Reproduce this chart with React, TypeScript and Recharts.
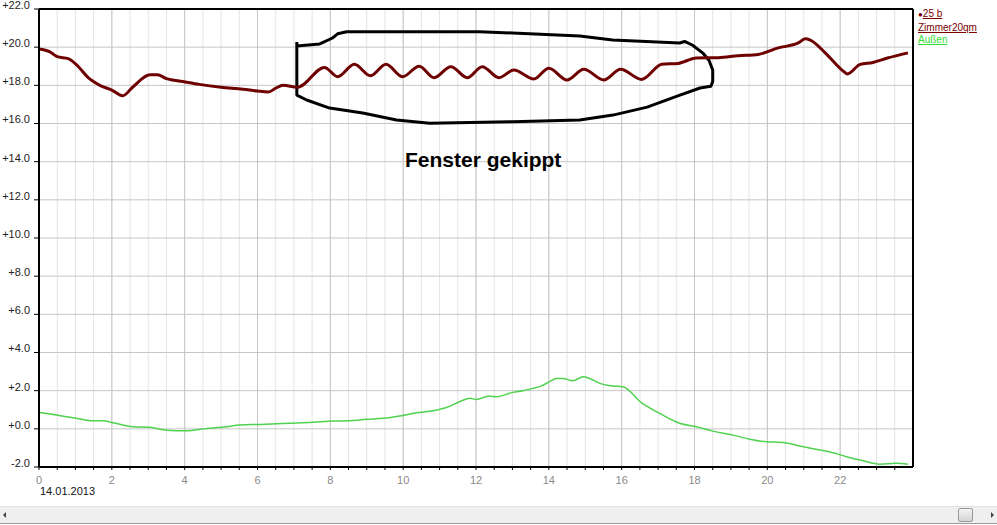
import React from "react";
import {
  LineChart,
  Line,
  XAxis,
  YAxis,
  CartesianGrid,
  ReferenceLine,
} from "recharts";

// Zimmer20qm (innen)
const ROOM_HOURS = [
  0, 0.3, 0.5, 0.8, 1.07, 1.35, 1.67, 2.0, 2.3, 2.57, 3.05, 3.25, 3.5, 3.95, 4.4, 5.0, 5.6, 6.0, 6.3, 6.5,
  6.7, 7.1, 7.84, 8.2, 8.66, 9.1, 9.53, 9.98, 10.44, 10.85, 11.31, 11.76, 12.17, 12.63, 13.04, 13.59, 14.0,
  14.5, 14.96, 15.51, 15.97, 16.55, 17.1, 17.55, 18.05, 18.66, 19.2, 19.75, 20.3, 20.85, 21.04, 21.18,
  21.59, 22.05, 22.2, 22.55, 22.9, 23.3, 23.86,
];
const ROOM_TEMPS = [
  19.9, 19.75, 19.5, 19.4, 19.0, 18.4, 18.0, 17.75, 17.45, 17.9, 18.55, 18.55, 18.35, 18.2, 18.05, 17.9, 17.8,
  17.7, 17.65, 17.85, 18.0, 17.9, 18.94, 18.45, 19.1, 18.5, 19.1, 18.45, 19.0, 18.4, 18.98, 18.4, 18.98, 18.4,
  18.8, 18.33, 18.9, 18.28, 18.84, 18.28, 18.84, 18.31, 19.1, 19.15, 19.43, 19.45, 19.55, 19.62, 19.96, 20.22,
  20.44, 20.37, 19.7, 18.8, 18.6, 19.1, 19.2, 19.43, 19.7,
];

// Außen
const OUT_HOURS = [
  0, 0.48, 1.03, 1.48, 1.76, 2.03, 2.58, 3.04, 3.5, 4.05, 4.6, 5.15, 5.51, 6.06, 6.88, 7.52, 8.07, 8.53, 8.99,
  9.45, 9.9, 10.36, 10.82, 11.19, 11.55, 11.83, 12.01, 12.37, 12.56, 13.01, 13.29, 13.56, 13.75, 14.02, 14.2,
  14.39, 14.66, 14.94, 15.12, 15.4, 15.76, 16.03, 16.54, 17.04, 17.59, 18.05, 18.51, 19.06, 19.42, 19.97,
  20.43, 20.89, 21.44, 21.8, 22.17, 22.63, 23.08, 23.54, 23.86,
];
const OUT_TEMPS = [
  0.86, 0.72, 0.55, 0.42, 0.42, 0.32, 0.11, 0.08, -0.07, -0.1, 0.02, 0.11, 0.2, 0.23, 0.29, 0.34, 0.41, 0.42,
  0.5, 0.55, 0.67, 0.84, 0.95, 1.12, 1.42, 1.6, 1.54, 1.72, 1.68, 1.91, 2.0, 2.12, 2.21, 2.47, 2.64, 2.64, 2.52,
  2.73, 2.64, 2.38, 2.24, 2.21, 1.37, 0.81, 0.29, 0.11, -0.12, -0.33, -0.5, -0.68, -0.71, -0.9, -1.11, -1.25,
  -1.46, -1.67, -1.85, -1.81, -1.86,
];

// hand drawn outline "Fenster gekippt"
const MARK_HOURS = [
  7.08, 7.08, 7.35, 7.98, 8.89, 9.82, 10.73, 13.01, 14.85, 15.76, 16.7, 17.6, 18.15, 18.45, 18.5, 18.5, 18.4,
  18.23, 17.95, 17.73, 17.59, 15.75, 14.85, 13.0, 12.1, 8.45, 8.2, 8.06, 7.71, 7.08,
];
const MARK_TEMPS = [
  20.27, 17.49, 17.23, 16.81, 16.55, 16.18, 16.01, 16.09, 16.18, 16.44, 16.86, 17.49, 17.86, 17.95, 18.2, 18.8,
  19.3, 19.69, 20.1, 20.3, 20.22, 20.37, 20.58, 20.74, 20.81, 20.81, 20.7, 20.48, 20.17, 20.06,
];

const Y_TICKS = [-2, 0, 2, 4, 6, 8, 10, 12, 14, 16, 18, 20, 22];
const X_TICKS = [0, 2, 4, 6, 8, 10, 12, 14, 16, 18, 20, 22];
const HALF_HOURS = Array.from({ length: 48 }, (_, i) => i * 0.5);

const roomData = ROOM_HOURS.map((h, i) => ({ hour: h, temp: ROOM_TEMPS[i] }));
const outData = OUT_HOURS.map((h, i) => ({ hour: h, temp: OUT_TEMPS[i] }));
const markData = MARK_HOURS.map((h, i) => ({ hour: h, temp: MARK_TEMPS[i] }));

const FONT = "'Liberation Sans', Arial, sans-serif";

function YTick({ x, y, payload }: any) {
  const v = payload.value as number;
  return (
    <text x={x} y={y - 4} textAnchor="end" fontSize={11} fontFamily={FONT} fill="#222" dy="0.35em">
      {(v >= 0 ? "+" : "") + v.toFixed(1)}
    </text>
  );
}

export default function App() {
  return (
    <div
      style={{
        position: "absolute",
        left: 0,
        top: 0,
        width: 997,
        height: 525,
        background: "#fff",
        fontFamily: FONT,
        overflow: "hidden",
      }}
    >
      <LineChart width={997} height={525} margin={{ top: 9, right: 84, bottom: 28, left: 0 }}>
        <CartesianGrid stroke="#e4e4e4" horizontal={false} verticalValues={HALF_HOURS} />
        <CartesianGrid stroke="#c6c6c6" verticalValues={X_TICKS} horizontalValues={Y_TICKS} />
        <XAxis
          dataKey="hour"
          type="number"
          domain={[0, 24]}
          ticks={HALF_HOURS}
          interval={0}
          allowDuplicatedCategory={false}
          tickFormatter={(v: number) => (v % 2 === 0 ? String(v) : "")}
          tickSize={3}
          tickMargin={6}
          height={30}
          tick={{ fontSize: 11, fill: "#8a8a8a", fontFamily: FONT }}
          tickLine={{ stroke: "#000" }}
          axisLine={{ stroke: "#000", strokeWidth: 2 }}
        />
        <YAxis
          type="number"
          domain={[-2, 22]}
          ticks={Y_TICKS}
          interval={0}
          width={39}
          tickSize={5}
          tickMargin={4}
          tick={<YTick />}
          tickLine={{ stroke: "#000" }}
          axisLine={{ stroke: "#000", strokeWidth: 2 }}
        />
        <ReferenceLine y={22} stroke="#000" strokeWidth={2} />
        <ReferenceLine x={24} stroke="#000" strokeWidth={2} />
        <Line
          data={markData}
          dataKey="temp"
          type="linear"
          stroke="#000"
          strokeWidth={3}
          strokeLinejoin="round"
          dot={false}
          isAnimationActive={false}
        />
        <Line
          data={outData}
          dataKey="temp"
          type="monotone"
          stroke="#4fd24f"
          strokeWidth={1.5}
          dot={false}
          isAnimationActive={false}
        />
        <Line
          data={roomData}
          dataKey="temp"
          type="monotone"
          stroke="#6e0000"
          strokeWidth={3}
          dot={false}
          isAnimationActive={false}
        />
      </LineChart>

      <div
        style={{
          position: "absolute",
          left: 405,
          top: 148,
          fontSize: 21,
          fontWeight: "bold",
          color: "#000",
          whiteSpace: "nowrap",
        }}
      >
        Fenster gekippt
      </div>

      <div style={{ position: "absolute", left: 918, top: 8, fontSize: 10, lineHeight: "12.5px" }}>
        <div style={{ color: "#7a0000" }}>
          <span style={{ fontSize: 8 }}>●</span>
          <span style={{ textDecoration: "underline" }}>25 b</span>
        </div>
        <div style={{ color: "#7a0000", textDecoration: "underline" }}>Zimmer20qm</div>
        <div style={{ color: "#33dd33", textDecoration: "underline" }}>Außen</div>
      </div>

      <div style={{ position: "absolute", left: 40, top: 485, fontSize: 11, color: "#111" }}>14.01.2013</div>

      <div
        style={{
          position: "absolute",
          left: 0,
          top: 506,
          width: 997,
          height: 16,
          background: "#efefef",
          borderTop: "1px solid #e2e2e2",
          borderBottom: "1px solid #9a9a9a",
        }}
      >
        <div
          style={{
            position: "absolute",
            left: 3,
            top: 5,
            width: 0,
            height: 0,
            borderTop: "3px solid transparent",
            borderBottom: "3px solid transparent",
            borderRight: "3px solid #444",
          }}
        />
        <div
          style={{
            position: "absolute",
            left: 958,
            top: 1,
            width: 13,
            height: 12,
            background: "linear-gradient(#f4f4f4, #d4d4d4)",
            border: "1px solid #999",
            borderRadius: 2,
          }}
        />
        <div
          style={{
            position: "absolute",
            left: 991,
            top: 5,
            width: 0,
            height: 0,
            borderTop: "3px solid transparent",
            borderBottom: "3px solid transparent",
            borderLeft: "3px solid #444",
          }}
        />
      </div>
    </div>
  );
}
